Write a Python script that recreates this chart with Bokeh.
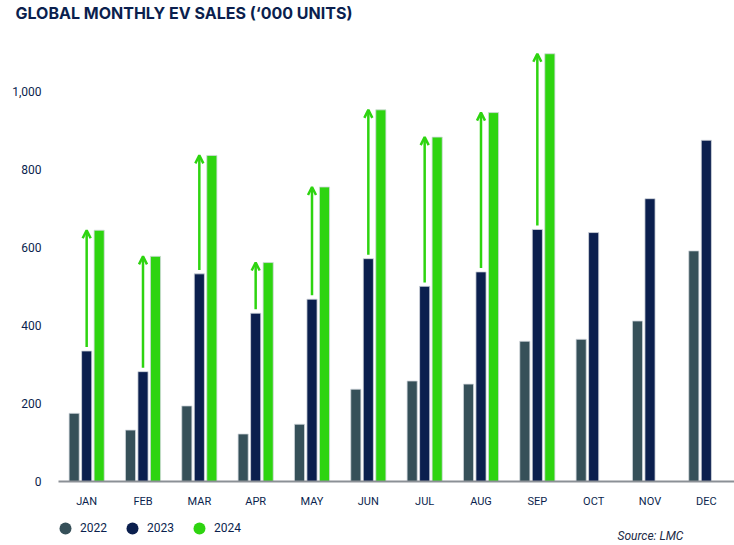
from bokeh.plotting import figure
from bokeh.layouts import column
from bokeh.models import (ColumnDataSource, FactorRange, Range1d, Arrow, OpenHead, Plot,
                          Label, Legend, LegendItem, FixedTicker, NumeralTickFormatter)
from bokeh.transform import dodge
from bokeh.embed import file_html
from bokeh.resources import INLINE

# data ('000 units)
months = ["JAN", "FEB", "MAR", "APR", "MAY", "JUN", "JUL", "AUG", "SEP", "OCT", "NOV", "DEC"]
sales_2022 = [175, 132, 194, 122, 147, 237, 258, 250, 360, 365, 412, 592]
sales_2023 = [335, 282, 533, 432, 468, 572, 501, 538, 647, 639, 726, 876]
sales_2024 = [645, 578, 837, 562, 756, 954, 884, 947, 1098]  # Jan-Sep only
y_ticks = [0, 200, 400, 600, 800, 1000]

c22 = "#365059"
c23 = "#0b1f4e"
c24 = "#2ed410"
navy = "#0b1f4e"
font = "Roboto"


def strip(height, **kw):
    # axis-less figure used for the header and footer texts
    f = figure(width=734, height=height, x_range=Range1d(0, 1), y_range=Range1d(0, 1),
               output_backend="svg", toolbar_location=None, title=None,
               x_axis_location=None, y_axis_location=None, min_border=0, **kw)
    f.grid.grid_line_color = None
    f.outline_line_color = None
    return f


# header with the title
head = strip(24)
if "frame_align" in Plot.properties():
    head.frame_align = False
head.add_layout(Label(text="GLOBAL MONTHLY EV SALES (\u2018000 UNITS)", x=15, y=12,
                      x_units="screen", y_units="screen", text_baseline="middle",
                      text_font="Inter", text_font_style="bold",
                      text_font_size="16px", text_color=navy))

# main chart
p = figure(width=734, height=486, x_range=FactorRange(*months), y_range=Range1d(0, 1150),
           output_backend="svg", toolbar_location=None, title=None,
           min_border_left=58, min_border_right=0, min_border_top=9, min_border_bottom=0)

src = ColumnDataSource(dict(month=months, y22=sales_2022, y23=sales_2023))
src24 = ColumnDataSource(dict(month=months[:len(sales_2024)], y24=sales_2024))

bar_kw = dict(width=0.18, line_color="#d3d8de", line_width=0.8)
p.vbar(x=dodge("month", -0.222, range=p.x_range), top="y22", source=src, fill_color=c22, **bar_kw)
p.vbar(x=dodge("month", 0.0, range=p.x_range), top="y23", source=src, fill_color=c23, **bar_kw)
p.vbar(x=dodge("month", 0.222, range=p.x_range), top="y24", source=src24, fill_color=c24, **bar_kw)

# growth arrows from the 2023 bar up to the 2024 level
n24 = len(sales_2024)
arrow_src = ColumnDataSource(dict(
    x=[i + 0.5 for i in range(n24)],
    y0=[v + 10 for v in sales_2023[:n24]],
    y1=sales_2024,
))
p.add_layout(Arrow(end=OpenHead(size=8, line_color=c24, line_width=2.5),
                   x_start="x", y_start="y0", x_end="x", y_end="y1", source=arrow_src,
                   line_color=c24, line_width=2.5))

# axes
p.xgrid.grid_line_color = None
p.ygrid.grid_line_color = None
p.outline_line_color = None

p.yaxis.ticker = FixedTicker(ticks=y_ticks)
p.yaxis.formatter = NumeralTickFormatter(format="0,0")
p.yaxis.axis_line_color = None
p.yaxis.major_label_standoff = 17
p.yaxis.major_label_text_font_size = "12px"

p.xaxis.axis_line_color = "#8b9096"
p.xaxis.axis_line_width = 2
p.xaxis.major_label_standoff = 13
p.xaxis.major_label_text_font_size = "11px"

for ax in (p.xaxis, p.yaxis):
    ax.major_tick_line_color = None
    ax.minor_tick_line_color = None
    ax.major_tick_out = 0
    ax.major_tick_in = 0
    ax.minor_tick_out = 0
    ax.major_label_text_font = font
    ax.major_label_text_color = navy

# footer strip: legend and source (its frame lines up with the chart frame at x=58)
foot = strip(35, min_border_left=58)

# legend-only renderers, points kept outside the visible range
d22 = foot.scatter(x=[-5], y=[-5], marker="circle", fill_color=c22, line_color=None)
d23 = foot.scatter(x=[-5], y=[-5], marker="circle", fill_color=c23, line_color=None)
d24 = foot.scatter(x=[-5], y=[-5], marker="circle", fill_color=c24, line_color=None)
legend = Legend(items=[LegendItem(label="2022", renderers=[d22]),
                       LegendItem(label="2023", renderers=[d23]),
                       LegendItem(label="2024", renderers=[d24])],
                orientation="horizontal", location=(-8, 2),
                glyph_width=30, glyph_height=30, label_standoff=-2, spacing=10,
                padding=0, margin=0, border_line_color=None, background_fill_alpha=0,
                label_text_font=font, label_text_font_size="12px", label_text_color=navy)
foot.add_layout(legend)

foot.add_layout(Label(text="Source: LMC", x=559, y=10, x_units="screen", y_units="screen",
                      text_baseline="middle", text_font=font, text_font_style="italic",
                      text_font_size="12px", text_color="#1c2a45"))

open("out.html", "w").write(file_html(column(head, p, foot, spacing=0), INLINE))
